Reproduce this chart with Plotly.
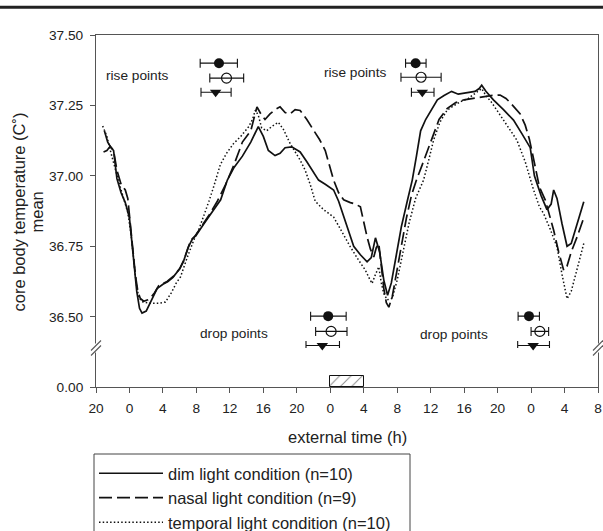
import plotly.graph_objects as go

# ---------------- data ----------------
time_dim = [-3.0, -2.6, -2.2, -1.9, -1.5, -1.0, -0.5, 0.0, 0.34, 0.6, 0.87, 1.2, 1.5, 2.0, 2.5, 3.3, 4.0, 4.6, 5.2,
            6.0, 6.5, 7.0, 7.5, 8.0, 8.9, 9.8, 10.9, 11.7, 12.5, 13.5, 14.5, 15.4, 16.0, 16.6, 17.4, 18.0, 18.6,
            19.4, 20.4, 21.2, 22.0, 22.6, 23.4, 24.4, 25.0, 25.6, 26.2, 26.8, 27.6, 28.4, 28.9, 29.4, 29.9, 30.4,
            30.85, 31.3, 31.9, 32.5, 33.2, 33.8, 34.3, 34.8, 35.4, 36.0, 36.8, 37.6, 38.5, 39.3, 40.2, 41.3, 41.8,
            42.1, 42.6, 43.5, 44.7, 45.9, 46.9, 47.9, 48.4, 49.2, 49.9, 50.4, 50.7, 51.1, 51.7, 52.3, 52.8, 53.4,
            54.3]
temp_dim = [37.16, 37.12, 37.10, 37.09, 36.99, 36.94, 36.905, 36.85, 36.75, 36.66, 36.59, 36.53, 36.513, 36.52, 36.55,
            36.60, 36.615, 36.625, 36.64, 36.67, 36.70, 36.745, 36.775, 36.79, 36.83, 36.87, 36.915, 36.985, 37.03,
            37.07, 37.12, 37.175, 37.14, 37.09, 37.072, 37.08, 37.10, 37.103, 37.085, 37.05, 37.01, 36.985, 36.97,
            36.95, 36.91, 36.855, 36.80, 36.75, 36.72, 36.695, 36.71, 36.78, 36.73, 36.63, 36.576, 36.62, 36.72,
            36.82, 36.91, 36.985, 37.07, 37.16, 37.20, 37.23, 37.27, 37.285, 37.30, 37.29, 37.295, 37.30, 37.31,
            37.322, 37.30, 37.27, 37.235, 37.198, 37.15, 37.10, 37.00, 36.93, 36.88, 36.90, 36.95, 36.92, 36.83,
            36.75, 36.76, 36.82, 36.908]

time_nasal = [-3.1, -2.7, -2.3, -1.9, -1.5, -1.0, -0.5, -0.2, 0.1, 0.4, 0.7, 1.0, 1.3, 1.7, 2.2, 2.6, 3.0, 3.5, 4.5,
              5.3, 6.0, 6.5, 7.3, 7.8, 8.5, 9.5, 10.5, 11.5, 12.5, 13.5, 14.5, 15.24, 15.7, 16.2, 16.8, 17.4, 18.0,
              18.6, 19.2, 19.8, 20.4, 21.2, 22.0, 22.7, 23.4, 23.9, 24.4, 25.0, 25.6, 26.4, 27.0, 27.6, 28.0, 28.4,
              28.8, 29.2, 29.5, 29.8, 30.1, 30.4, 30.7, 31.0, 31.4, 31.9, 32.5, 33.1, 33.7, 34.3, 35.0, 35.6, 36.2,
              37.0, 38.0, 39.0, 40.0, 41.0, 42.0, 43.2, 44.3, 45.0, 45.5, 46.1, 46.7, 47.3, 47.8, 48.3, 49.0, 49.7,
              50.2, 50.7, 51.3, 51.9, 52.3, 52.8, 53.5, 54.2]
temp_nasal = [37.085, 37.09, 37.105, 37.09, 37.02, 36.97, 36.95, 36.92, 36.83, 36.74, 36.65, 36.59, 36.565, 36.555,
              36.56, 36.57, 36.585, 36.61, 36.625, 36.645, 36.67, 36.70, 36.77, 36.785, 36.815, 36.86, 36.91, 36.97,
              37.04, 37.12, 37.16, 37.245, 37.22, 37.20, 37.22, 37.235, 37.245, 37.225, 37.22, 37.235, 37.232, 37.20,
              37.162, 37.13, 37.09, 37.04, 36.985, 36.94, 36.915, 36.905, 36.90, 36.89, 36.83, 36.783, 36.74, 36.712,
              36.745, 36.76, 36.68, 36.60, 36.55, 36.534, 36.57, 36.65, 36.75, 36.85, 36.93, 36.985, 37.04, 37.09,
              37.14, 37.20, 37.24, 37.26, 37.27, 37.275, 37.28, 37.285, 37.287, 37.275, 37.26, 37.24, 37.22, 37.18,
              37.13, 37.06, 36.96, 36.914, 36.86, 36.807, 36.73, 36.665, 36.68, 36.73, 36.783, 36.843]

time_temporal = [-3.2, -2.7, -2.2, -1.7, -1.2, -0.7, -0.2, 0.2, 0.5, 0.8, 1.1, 1.5, 2.5, 3.5, 4.3, 5.0, 5.6, 6.1, 6.9,
                 7.66, 8.3, 8.86, 9.5, 10.06, 10.86, 11.6, 12.45, 13.3, 14.24, 14.7, 15.04, 15.4, 15.8, 16.4, 17.0,
                 17.8, 18.4, 19.2, 20.4, 21.0, 21.6, 22.2, 23.2, 24.4, 25.4, 26.4, 27.4, 28.2, 28.6, 29.0, 29.4, 29.8,
                 30.1, 30.4, 30.8, 31.4, 32.0, 32.7, 33.4, 34.2, 35.15, 35.8, 36.35, 37.1, 37.95, 38.8, 39.7, 40.5,
                 41.1, 41.7, 42.1, 42.6, 43.3, 44.3, 45.3, 46.3, 47.3, 48.3, 49.0, 49.5, 50.3, 51.1, 51.7, 52.3, 52.8,
                 53.3, 53.8, 54.3]
temp_temporal = [37.177, 37.14, 37.08, 37.02, 36.97, 36.92, 36.87, 36.79, 36.70, 36.62, 36.57, 36.553, 36.548, 36.548,
                 36.552, 36.585, 36.62, 36.641, 36.71, 36.77, 36.81, 36.854, 36.91, 36.961, 37.04, 37.08, 37.115,
                 37.14, 37.174, 37.20, 37.233, 37.215, 37.17, 37.16, 37.175, 37.19, 37.165, 37.115, 37.056, 37.02,
                 36.97, 36.91, 36.88, 36.854, 36.80, 36.748, 36.70, 36.665, 36.64, 36.618, 36.65, 36.677, 36.62,
                 36.582, 36.56, 36.565, 36.63, 36.73, 36.83, 36.92, 36.985, 37.06, 37.127, 37.19, 37.233, 37.25,
                 37.265, 37.275, 37.287, 37.30, 37.31, 37.285, 37.26, 37.216, 37.17, 37.127, 37.05, 36.95, 36.89,
                 36.866, 36.81, 36.748, 36.65, 36.564, 36.59, 36.65, 36.71, 36.76]

# rise / drop points: mean time (h), level, minus / plus error (h)
rise_time = {"dim": [10.7, 34.2], "nasal": [11.6, 34.85], "temporal": [10.3, 35.0]}
rise_err_minus = {"dim": [2.25, 1.2], "nasal": [2.0, 2.4], "temporal": [1.75, 1.3]}
rise_err_plus = {"dim": [2.2, 1.25], "nasal": [2.05, 2.4], "temporal": [1.85, 1.4]}
rise_level = {"dim": [37.40, 37.40], "nasal": [37.347, 37.35], "temporal": [37.297, 37.297]}

drop_time = {"dim": [23.75, 47.75], "nasal": [24.1, 49.05], "temporal": [23.05, 48.25]}
drop_err_minus = {"dim": [2.1, 1.3], "nasal": [1.85, 1.05], "temporal": [1.95, 1.85]}
drop_err_plus = {"dim": [2.15, 1.25], "nasal": [1.9, 1.05], "temporal": [2.05, 1.95]}
drop_level = {"dim": [36.502, 36.502], "nasal": [36.448, 36.448], "temporal": [36.398, 36.398]}

# dark (sleep) episode, hours
dark_start = 24
dark_end = 28

x_tick_vals = [-4, 0, 4, 8, 12, 16, 20, 24, 28, 32, 36, 40, 44, 48, 52, 56]
x_tick_text = ["20", "0", "4", "8", "12", "16", "20", "0", "4", "8", "12", "16", "20", "0", "4", "8"]
y_tick_vals = [36.50, 36.75, 37.00, 37.25, 37.50]

names = {"dim": "dim light condition (n=10)",
         "nasal": "nasal light condition (n=9)",
         "temporal": "temporal light condition (n=10)"}

# ---------------- geometry helpers (pixels -> paper) ----------------
W, H = 603, 531
ML, MR, MT, MB = 96, 5, 35, 144
PW = W - ML - MR
PH = H - MT - MB


def px(xp):
    return (xp - ML) / PW


def py(yp):
    return (H - MB - yp) / PH


BREAK_Y = 348
split = py(BREAK_Y)

INK = "#111111"
AX = "#555555"
TXT = "#222222"
FONT = "Liberation Sans, Arial, sans-serif"

fig = go.Figure()

# curves
fig.add_trace(go.Scatter(x=time_dim, y=temp_dim, mode="lines", name=names["dim"],
                         line=dict(color=INK, width=1.7), xaxis="x2", yaxis="y", legendgroup="a"))
fig.add_trace(go.Scatter(x=time_nasal, y=temp_nasal, mode="lines", name=names["nasal"],
                         line=dict(color=INK, width=1.7, dash="13px,5px"), xaxis="x2", yaxis="y",
                         legendgroup="b"))
fig.add_trace(go.Scatter(x=time_temporal, y=temp_temporal, mode="lines", name=names["temporal"],
                         line=dict(color=INK, width=1.5, dash="1.5px,2.2px"), xaxis="x2", yaxis="y",
                         legendgroup="c"))

symbols = {"dim": dict(symbol="circle", size=10, color=INK),
           "nasal": dict(symbol="circle-open", size=10, color=INK, line=dict(width=1.2, color=INK)),
           "temporal": dict(symbol="triangle-down", size=10, color=INK)}

for key in ["dim", "nasal", "temporal"]:
    for tt, lv, em, ep in [(rise_time, rise_level, rise_err_minus, rise_err_plus),
                           (drop_time, drop_level, drop_err_minus, drop_err_plus)]:
        fig.add_trace(go.Scatter(
            x=tt[key], y=lv[key], mode="markers", marker=symbols[key], showlegend=False,
            xaxis="x2", yaxis="y", cliponaxis=False,
            error_x=dict(type="data", symmetric=False, array=ep[key], arrayminus=em[key],
                         color=INK, thickness=1.1, width=4.5)))

# dark episode (hatched bar on broken lower axis)
fig.add_trace(go.Bar(x=[(dark_start + dark_end) / 2], y=[1], width=[dark_end - dark_start], base=0,
                     xaxis="x", yaxis="y2", showlegend=False,
                     marker=dict(color="white", line=dict(color=INK, width=1),
                                 pattern=dict(shape="/", fgcolor=INK, bgcolor="white", size=8, solidity=0.12))))

tickfont = dict(family=FONT, size=13.7, color=TXT)

fig.update_layout(
    width=W, height=H,
    margin=dict(l=ML, r=MR, t=MT, b=MB, autoexpand=False),
    paper_bgcolor="white", plot_bgcolor="white",
    font=dict(family=FONT, color=TXT),
    xaxis=dict(domain=[0, 1], range=[-4, 56], anchor="y2", tickvals=x_tick_vals, ticktext=x_tick_text,
               ticks="outside", ticklen=5, tickcolor=AX, showline=True, linecolor=AX, linewidth=1,
               showgrid=False, zeroline=False, tickfont=tickfont, ticklabelstandoff=4),
    xaxis2=dict(domain=[0, 1], matches="x", anchor="y", side="top", showticklabels=False, ticks="",
                showline=True, linecolor=AX, linewidth=1, showgrid=False, zeroline=False),
    yaxis=dict(domain=[split, 1], range=[36.389, 37.5], tickvals=y_tick_vals, tickformat=".2f",
               ticks="outside", ticklen=5, tickcolor=AX, showline=True, mirror=True, linecolor=AX, linewidth=1,
               showgrid=False, zeroline=False, tickfont=tickfont, ticklabelstandoff=4),
    yaxis2=dict(domain=[0, split], range=[0, 3.4], tickvals=[0], ticktext=["0.00"],
                ticks="outside", ticklen=5, tickcolor=AX, showline=True, mirror=True, linecolor=AX, linewidth=1,
                showgrid=False, zeroline=False, tickfont=tickfont, ticklabelstandoff=4),
    showlegend=True,
    legend=dict(x=px(94), y=py(456), xanchor="left", yanchor="top", borderwidth=0,
                bgcolor="rgba(0,0,0,0)", font=dict(family=FONT, size=16.5, color=TXT), itemwidth=64,
                traceorder="grouped", tracegroupgap=0),
    bargap=0,
)

ann_font = dict(family=FONT, size=13.7, color=TXT)
big_font = dict(family=FONT, size=16.5, color=TXT)
annotations = [
    dict(x=0.92, y=37.358, xref="x2", yref="y", text="rise points", showarrow=False, font=ann_font),
    dict(x=27.0, y=37.366, xref="x2", yref="y", text="rise points", showarrow=False, font=ann_font),
    dict(x=12.45, y=36.442, xref="x2", yref="y", text="drop points", showarrow=False, font=ann_font),
    dict(x=38.73, y=36.436, xref="x2", yref="y", text="drop points", showarrow=False, font=ann_font),
    dict(x=px(347), y=py(437), xref="paper", yref="paper", text="external time (h)", showarrow=False,
         font=big_font),
    dict(x=px(18.5), y=py(212), xref="paper", yref="paper", text="core body temperature (C˚)", textangle=-90,
         showarrow=False, font=big_font),
    dict(x=px(36.5), y=py(212), xref="paper", yref="paper", text="mean", textangle=-90,
         showarrow=False, font=big_font),
]
for a in annotations:
    a["xanchor"] = "center"
    a["yanchor"] = "middle"
fig.update_layout(annotations=annotations)

shapes = [
    # page rule at top
    dict(type="line", xref="paper", yref="paper", x0=px(0), x1=px(W), y0=py(7.3), y1=py(7.3),
         line=dict(color="#222222", width=3)),
    # legend frame (runs off the bottom edge as in the reference)
    dict(type="rect", xref="paper", yref="paper", x0=px(94), x1=px(410), y0=py(454), y1=py(545),
         line=dict(color="#444444", width=1), fillcolor="rgba(0,0,0,0)"),
]
for sx in [ML, W - MR]:
    shapes.append(dict(type="line", xref="paper", yref="paper", x0=px(sx), x1=px(sx), y0=py(343.5), y1=py(352.5),
                       line=dict(color="white", width=3)))
    shapes.append(dict(type="line", xref="paper", yref="paper", x0=px(sx - 5), x1=px(sx + 5),
                       y0=py(350.5), y1=py(340.5), line=dict(color=AX, width=1.1)))
    shapes.append(dict(type="line", xref="paper", yref="paper", x0=px(sx - 5), x1=px(sx + 5),
                       y0=py(355.5), y1=py(345.5), line=dict(color=AX, width=1.1)))
fig.update_layout(shapes=shapes)

fig.write_html("out.html", config={"displayModeBar": False},
               post_script="document.body.style.margin='0px';")
